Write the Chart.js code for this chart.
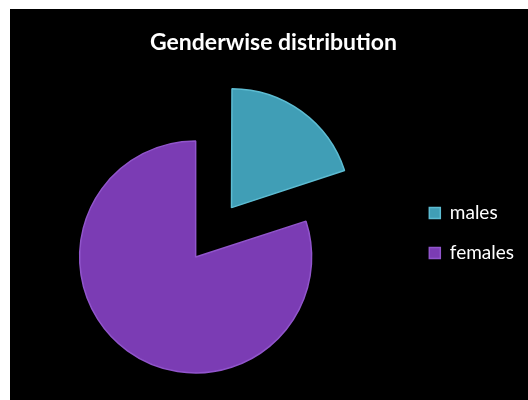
<!DOCTYPE html>
<html><head><meta charset="utf-8">
<script src="https://cdn.jsdelivr.net/npm/chart.js@4"></script>
<style>
html,body{margin:0;padding:0;background:#fff;}
#wrap{position:absolute;left:10px;top:9px;width:518px;height:391px;background:#000;}
canvas{display:block;}
</style></head><body>
<div id="wrap"><canvas id="c" width="518" height="391"></canvas></div>
<script>
const categories = ['males', 'females'];
const values = [20, 80];
const sliceColors = ['#409EB6', '#7B3CB4'];
const edgeColors = ['#5DBCD2', '#9155CC'];
const sliceOffsets = [244, 0];
const chartTitle = 'Genderwise distribution';

new Chart(document.getElementById('c'), {
  type: 'pie',
  data: {
    labels: categories,
    datasets: [{
      data: values,
      backgroundColor: sliceColors,
      borderColor: edgeColors,
      borderWidth: 1.5,
      offset: sliceOffsets,
      radius: 116,
      clip: false
    }]
  },
  options: {
    responsive: false,
    animation: false,
    devicePixelRatio: 1,
    events: [],
    layout: { padding: { left: 13, right: 4, top: 0, bottom: 0 } },
    plugins: {
      title: {
        display: true, text: chartTitle, color: '#ffffff',
        font: { family: 'Lato', size: 23, weight: 'bold', lineHeight: 1.2 },
        padding: { top: 20, bottom: 57.4 }
      },
      subtitle: {
        display: true, text: ' ', position: 'right', weight: 500, fullSize: false,
        font: { size: 10, lineHeight: 1.2 }, padding: { top: 28, bottom: 0 }
      },
      legend: {
        position: 'right', align: 'start', fullSize: false,
        labels: {
          color: '#ffffff', font: { family: 'Lato', size: 19 },
          boxWidth: 11, boxHeight: 11, padding: 21
        },
        title: { display: true, text: ' ', font: { size: 10, lineHeight: 1.2 }, padding: { top: 56.5, bottom: 0 } }
      },
      tooltip: { enabled: false }
    }
  }
});
</script>
</body></html>
